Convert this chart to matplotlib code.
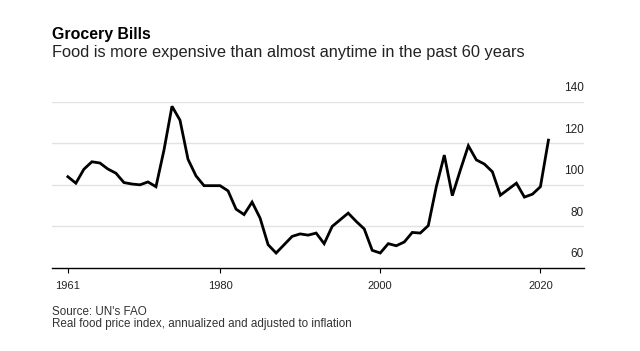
import matplotlib
matplotlib.use("Agg")
from matplotlib import pyplot as plt

years = list(range(1961, 2022))
index = [103.9, 100.8, 107.5, 111.1, 110.5, 107.6, 105.6, 101.1, 100.4, 100.0,
         101.4, 99.1, 116.7, 137.8, 131.1, 112.3, 104.3, 99.6, 99.6, 99.6,
         97.1, 88.3, 85.7, 91.7, 84.0, 71.2, 67.2, 71.2, 75.2, 76.4,
         75.8, 76.8, 71.7, 80.0, 83.2, 86.4, 82.4, 78.8, 68.5, 67.2,
         71.7, 70.7, 72.5, 77.1, 76.8, 80.4, 99.1, 114.3, 94.8, 107.1,
         118.8, 112.0, 110.0, 106.3, 95.0, 97.9, 100.8, 94.1, 95.5, 99.1,
         121.5]
xticks = [1961, 1980, 2000, 2020]
yticks = [60, 80, 100, 120, 140]

plt.rcParams['font.family'] = ['Liberation Sans', 'DejaVu Sans']

fig = plt.figure(figsize=(6.4, 3.51), dpi=100)
ax = fig.add_axes([0.081, 0.2365, 0.831, 0.4738])

for v in yticks[1:]:
    ax.axhline(v, color='#e2e2e2', lw=1, zorder=0)
ax.plot(years, index, color='black', lw=2, solid_joinstyle='miter', zorder=3)

ax.set_xlim(1959.0, 2025.4)
ax.set_ylim(60, 140)

for s in ['top', 'right', 'left']:
    ax.spines[s].set_visible(False)
ax.spines['bottom'].set_color('black')
ax.spines['bottom'].set_linewidth(1)

ax.set_xticks(xticks)
ax.set_xticklabels([str(x) for x in xticks], fontsize=8, color='#222222')
ax.tick_params(axis='x', length=3.5, width=0.8, pad=6)
ax.set_yticks([])

for v in yticks:
    ax.annotate(str(v), xy=(1, v), xycoords=('axes fraction', 'data'),
                xytext=(0, 5.5), textcoords='offset points',
                ha='right', va='bottom', fontsize=8.5, color='#222222',
                annotation_clip=False)

fig.text(0.081, 1 - 39 / 351, 'Grocery Bills', fontsize=11.4, fontweight='bold',
         va='baseline', ha='left')
fig.text(0.081, 1 - 57 / 351,
         'Food is more expensive than almost anytime in the past 60 years',
         fontsize=11.8, va='baseline', ha='left', color='#222222')
fig.text(0.081, 1 - 315 / 351, "Source: UN's FAO", fontsize=8.4, va='baseline',
         ha='left', color='#333333')
fig.text(0.081, 1 - 327 / 351,
         'Real food price index, annualized and adjusted to inflation',
         fontsize=8.4, va='baseline', ha='left', color='#333333')

fig.savefig('out.png', dpi=100)
